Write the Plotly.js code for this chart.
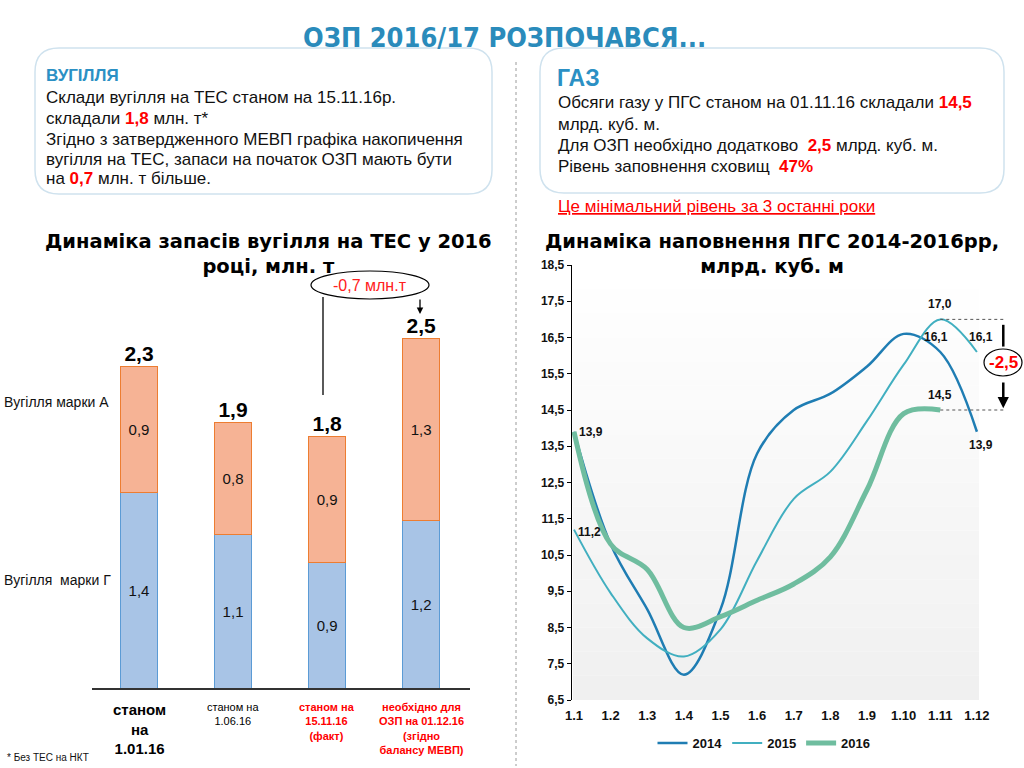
<!DOCTYPE html>
<html><head><meta charset="utf-8">
<script src="https://cdn.plot.ly/plotly-3.0.1.min.js"></script>
<style>html,body{margin:0;padding:0;background:#fff}#chart{width:1024px;height:768px}</style>
</head><body><div id="chart"></div>
<script>
// ---------- DATA ----------
const coalCategories = ['станом<br>на<br>1.01.16', 'станом на<br>1.06.16', 'станом на<br>15.11.16<br>(факт)', 'необхідно для<br>ОЗП на 01.12.16<br>(згідно<br>балансу МЕВП)'];
const coalG = [1.4, 1.1, 0.9, 1.2];   // Вугілля марки Г
const coalA = [0.9, 0.8, 0.9, 1.3];   // Вугілля марки А
const coalSeriesNames = ['Вугілля  марки Г', 'Вугілля марки А'];

const months = ['1.1','1.2','1.3','1.4','1.5','1.6','1.7','1.8','1.9','1.10','1.11','1.12'];
const gas2014 = [13.9, 10.8, 9.0, 7.2, 9.0, 13.3, 14.5, 14.95, 15.7, 16.6, 16.1, 13.9];
const gas2015 = [11.2, 9.45, 8.2, 7.7, 8.45, 10.35, 12.05, 12.8, 14.2, 15.75, 17.0, 16.1];
const gas2016 = [13.9, 10.8, 10.1, 8.5, 8.8, 9.25, 9.7, 10.45, 12.3, 14.4, 14.5];
const gasYears = ['2014', '2015', '2016'];
const yTicks = [6.5,7.5,8.5,9.5,10.5,11.5,12.5,13.5,14.5,15.5,16.5,17.5,18.5];

const coalBoxLines = [
  '<b><span style="color:#2b90c4">ВУГІЛЛЯ</span></b>',
  'Склади вугілля на ТЕС станом на 15.11.16р.',
  'складали <b><span style="color:#ff0000">1,8</span></b> млн. т*',
  'Згідно з затвердженного МЕВП графіка накопичення',
  'вугілля на ТЕС, запаси на початок ОЗП мають бути',
  'на <b><span style="color:#ff0000">0,7</span></b> млн. т більше.'
];
const gasBoxLines = [
  'Обсяги газу у ПГС станом на 01.11.16 складали <b><span style="color:#ff0000">14,5</span></b>',
  'млрд. куб. м.',
  'Для ОЗП необхідно додатково  <b><span style="color:#ff0000">2,5</span></b> млрд. куб. м.',
  'Рівень заповнення сховищ  <b><span style="color:#ff0000">47%</span></b>'
];

// ---------- helpers ----------
const W = 1024, H = 768;
const px = v => v / W, py = v => 1 - v / H;
const fmt = v => v.toFixed(1).replace('.', ',');
const sum = (a, b) => a.map((v, i) => +(v + b[i]).toFixed(2));
function rr(x0, y0, x1, y1, r) {
  const X = v => px(v).toFixed(5), Y = v => py(v).toFixed(5);
  return `M${X(x0+r)},${Y(y0)} L${X(x1-r)},${Y(y0)} Q${X(x1)},${Y(y0)} ${X(x1)},${Y(y0+r)} L${X(x1)},${Y(y1-r)} Q${X(x1)},${Y(y1)} ${X(x1-r)},${Y(y1)} L${X(x0+r)},${Y(y1)} Q${X(x0)},${Y(y1)} ${X(x0)},${Y(y1-r)} L${X(x0)},${Y(y0+r)} Q${X(x0)},${Y(y0)} ${X(x0+r)},${Y(y0)} Z`;
}
const idx = coalG.map((_, i) => i);
const mIdx = months.map((_, i) => i);
const coalTotal = sum(coalG, coalA);

const ARIAL = 'Liberation Sans, Arial, sans-serif';
const HEAVY = 'DejaVu Sans, Liberation Sans, sans-serif';

// ---------- TRACES ----------
const traces = [
  { type: 'bar', x: idx, y: coalG, name: coalSeriesNames[0], width: 0.4, xaxis: 'x', yaxis: 'y',
    marker: { color: '#a8c4e6', line: { color: '#5b9bd5', width: 1 } },
    texttemplate: '%{y:.1f}', textposition: 'inside', insidetextanchor: 'middle',
    textfont: { family: ARIAL, size: 15, color: '#111' }, showlegend: false, hoverinfo: 'skip' },
  { type: 'bar', x: idx, y: coalA, name: coalSeriesNames[1], width: 0.4, xaxis: 'x', yaxis: 'y',
    marker: { color: '#f6b395', line: { color: '#ed7d31', width: 1 } },
    texttemplate: '%{y:.1f}', textposition: 'inside', insidetextanchor: 'middle',
    textfont: { family: ARIAL, size: 15, color: '#111' }, showlegend: false, hoverinfo: 'skip' },
  { type: 'scatter', mode: 'text', x: idx, y: coalTotal, xaxis: 'x', yaxis: 'y',
    texttemplate: '<b>%{y:.1f}</b>', textposition: 'top center', cliponaxis: false,
    textfont: { family: ARIAL, size: 21, color: '#000' }, showlegend: false, hoverinfo: 'skip' },
  { type: 'scatter', mode: 'lines', x: mIdx, y: gas2014, name: gasYears[0], xaxis: 'x2', yaxis: 'y2',
    line: { color: '#1f7db3', width: 2.5, shape: 'spline', smoothing: 1 }, hoverinfo: 'skip' },
  { type: 'scatter', mode: 'lines', x: mIdx, y: gas2015, name: gasYears[1], xaxis: 'x2', yaxis: 'y2',
    line: { color: '#41afc0', width: 2, shape: 'spline', smoothing: 1 }, hoverinfo: 'skip' },
  { type: 'scatter', mode: 'lines', x: mIdx.slice(0, gas2016.length), y: gas2016, name: gasYears[2], xaxis: 'x2', yaxis: 'y2',
    line: { color: '#6fbd9f', width: 5, shape: 'spline', smoothing: 1 }, hoverinfo: 'skip' }
];

// ---------- SHAPES ----------
const shapes = [];
const nb = 18, gy0 = 265, gy1 = 700;
for (let i = 0; i < nb; i++) {
  const g = Math.round(255 - 15 * i / (nb - 1));
  shapes.push({ type: 'rect', xref: 'paper', yref: 'paper', layer: 'below',
    x0: px(573), x1: px(979), y0: py(gy0 + (gy1 - gy0) * i / nb), y1: py(gy0 + (gy1 - gy0) * (i + 1) / nb),
    fillcolor: `rgb(${g},${g},${g})`, line: { width: 0 } });
}
shapes.push({ type: 'path', xref: 'paper', yref: 'paper', path: rr(35, 48, 492, 194, 24), line: { color: '#cfe2ee', width: 1.5 }, fillcolor: 'rgba(0,0,0,0)' });
shapes.push({ type: 'path', xref: 'paper', yref: 'paper', path: rr(540, 48, 1004, 193, 24), line: { color: '#cfe2ee', width: 1.5 }, fillcolor: 'rgba(0,0,0,0)' });
shapes.push({ type: 'line', xref: 'paper', yref: 'paper', x0: px(516), x1: px(516), y0: py(62), y1: py(766), line: { color: '#9a9a9a', width: 1, dash: 'dot' } });
shapes.push({ type: 'line', xref: 'paper', yref: 'paper', x0: px(323), x1: px(323), y0: py(297), y1: py(395), line: { color: '#000', width: 1.3 } });
shapes.push({ type: 'circle', xref: 'paper', yref: 'paper', x0: px(311), x1: px(429), y0: py(271), y1: py(299), line: { color: '#000', width: 1.2 }, fillcolor: '#fff' });
const peakIdx = 10;
shapes.push({ type: 'line', xref: 'x2', yref: 'y2', x0: peakIdx, x1: 11.72, y0: gas2015[peakIdx], y1: gas2015[peakIdx], line: { color: '#555', width: 1, dash: 'dot' } });
shapes.push({ type: 'line', xref: 'x2', yref: 'y2', x0: peakIdx, x1: 11.72, y0: gas2016[peakIdx], y1: gas2016[peakIdx], line: { color: '#555', width: 1, dash: 'dot' } });
shapes.push({ type: 'line', xref: 'x2', yref: 'y2', x0: 11.72, x1: 11.72, y0: gas2015[peakIdx] - 0.15, y1: (gas2015[peakIdx] + gas2016[peakIdx]) / 2 + 0.5, line: { color: '#000', width: 2.5 } });
shapes.push({ type: 'circle', xref: 'paper', yref: 'paper', x0: px(984), x1: px(1022), y0: py(349), y1: py(376), line: { color: '#000', width: 1.2 }, fillcolor: '#fff' });

// ---------- ANNOTATIONS ----------
const ann = [];
const A = o => ann.push(Object.assign({ xref: 'paper', yref: 'paper', showarrow: false }, o));
A({ x: px(504), y: py(37), xanchor: 'center', yanchor: 'middle', text: '<b>ОЗП 2016/17 РОЗПОЧАВСЯ...</b>',
    font: { family: 'DejaVu Sans Condensed, Liberation Sans Narrow, Liberation Sans, sans-serif', size: 27, color: '#2a8bbb' } });
// left box lines
const coalLineY = [75, 97, 118, 139, 159, 179];
coalBoxLines.forEach((t, i) => A({ x: px(44), y: py(coalLineY[i]), xanchor: 'left', yanchor: 'middle', text: t,
  font: { family: ARIAL, size: 17, color: '#111' } }));
// right box
A({ x: px(555), y: py(78), xanchor: 'left', yanchor: 'middle', text: '<b>ГАЗ</b>', font: { family: ARIAL, size: 23, color: '#2b90c4' } });
const gasLineY = [102, 124, 145, 166];
gasBoxLines.forEach((t, i) => A({ x: px(556), y: py(gasLineY[i]), xanchor: 'left', yanchor: 'middle', text: t,
  font: { family: ARIAL, size: 17, color: '#111' } }));
A({ x: px(556), y: py(206), xanchor: 'left', yanchor: 'middle', text: '<u>Це мінімальний рівень за 3 останні роки</u>',
    font: { family: ARIAL, size: 17, color: '#ff0000' } });
// chart titles
A({ x: px(268), y: py(254), xanchor: 'center', yanchor: 'middle', text: '<b>Динаміка запасів вугілля на ТЕС у 2016<br>році, млн. т</b>',
    font: { family: HEAVY, size: 19.5, color: '#000' } });
A({ x: px(772), y: py(254), xanchor: 'center', yanchor: 'middle', text: '<b>Динаміка наповнення ПГС 2014-2016рр,<br>млрд. куб. м</b>',
    font: { family: HEAVY, size: 19.5, color: '#000' } });
// coal series labels
A({ x: px(111), y: py(402), xanchor: 'right', yanchor: 'middle', text: coalSeriesNames[1], font: { family: ARIAL, size: 14, color: '#111' } });
A({ x: px(113), y: py(580), xanchor: 'right', yanchor: 'middle', text: coalSeriesNames[0], font: { family: ARIAL, size: 14, color: '#111' } });
// coal category labels
const catStyle = [
  { size: 15, color: '#000', bold: true },
  { size: 11, color: '#000', bold: false },
  { size: 11, color: '#ff0000', bold: true },
  { size: 11, color: '#ff0000', bold: true }
];
coalCategories.forEach((c, i) => {
  ann.push({ xref: 'x', yref: 'paper', x: i, y: py(699), xanchor: 'center', yanchor: 'top', showarrow: false,
    text: catStyle[i].bold ? '<b>' + c + '</b>' : c, align: 'center',
    font: { family: ARIAL, size: catStyle[i].size, color: catStyle[i].color } });
});
A({ x: px(370), y: py(285), xanchor: 'center', yanchor: 'middle',
    text: fmt(coalTotal[2] - coalTotal[3]) + ' млн.т', font: { family: ARIAL, size: 16, color: '#ff2020' } });
ann.push({ xref: 'paper', yref: 'paper', x: px(420), y: py(314), ax: px(420), ay: py(298), axref: 'paper', ayref: 'paper',
  showarrow: true, arrowhead: 2, arrowsize: 1, arrowwidth: 1.3, arrowcolor: '#000', text: '' });
A({ x: px(5), y: py(757), xanchor: 'left', yanchor: 'middle', text: '* Без ТЕС на НКТ', font: { family: ARIAL, size: 10, color: '#111' } });
// gas data labels
const gasLbl = [
  { s: gas2016, i: 0, dx: 17, dy: 0 },
  { s: gas2015, i: 0, dx: 15, dy: -2 },
  { s: gas2015, i: 10, dx: 0, dy: 15 },
  { s: gas2014, i: 10, dx: -4, dy: 15 },
  { s: gas2015, i: 11, dx: 4, dy: 15 },
  { s: gas2016, i: 10, dx: 0, dy: 15 },
  { s: gas2014, i: 11, dx: 4, dy: -13 }
];
gasLbl.forEach(l => ann.push({ xref: 'x2', yref: 'y2', x: l.i, y: l.s[l.i], xshift: l.dx, yshift: l.dy, showarrow: false,
  text: '<b>' + fmt(l.s[l.i]) + '</b>', font: { family: ARIAL, size: 12, color: '#111' } }));
ann.push({ xref: 'x2', yref: 'y2', x: 11.72, y: gas2016[peakIdx] + 0.05, ax: 11.72, ay: 15.3, axref: 'x2', ayref: 'y2',
  showarrow: true, arrowhead: 2, arrowsize: 0.9, arrowwidth: 2.5, arrowcolor: '#000', text: '' });
A({ x: px(1003), y: py(362), xanchor: 'center', yanchor: 'middle', text: '<b>' + fmt(gas2016[peakIdx] - gas2015[peakIdx]) + '</b>',
    font: { family: ARIAL, size: 17, color: '#ff0000' } });

// ---------- LAYOUT ----------
const layout = {
  width: W, height: H, autosize: false, margin: { l: 0, r: 0, t: 0, b: 0 },
  paper_bgcolor: '#fff', plot_bgcolor: 'rgba(0,0,0,0)', separators: ', ',
  barmode: 'stack', showlegend: true,
  font: { family: ARIAL, color: '#111' },
  xaxis: { domain: [px(92), px(470)], range: [-0.5, 3.52], anchor: 'y', showticklabels: false, ticks: '',
    showgrid: false, zeroline: false, showline: true, linecolor: '#333', linewidth: 1.5, fixedrange: true },
  yaxis: { domain: [py(688), py(300)], range: [0, (688 - 300) / 140], anchor: 'x', visible: false, fixedrange: true },
  xaxis2: { domain: [px(572), px(1015)], range: [-0.055, 12.04], anchor: 'y2', tickmode: 'array', tickvals: mIdx, ticktext: months,
    ticks: '', showgrid: false, zeroline: false, showline: false, ticklabelstandoff: 6,
    tickfont: { family: ARIAL, size: 13, color: '#111', weight: 'bold' } },
  yaxis2: { domain: [py(700), py(265)], range: [6.5, 18.5], anchor: 'x2', tickmode: 'array', tickvals: yTicks, tickformat: '.1f',
    ticks: 'outside', ticklen: 4, tickcolor: '#000', showline: true, linecolor: '#000', linewidth: 1.3, showgrid: false, zeroline: false,
    tickfont: { family: ARIAL, size: 12, color: '#111', weight: 'bold' } },
  legend: { orientation: 'h', x: px(764), xanchor: 'center', y: py(743), yanchor: 'middle', traceorder: 'normal',
    font: { family: ARIAL, size: 13, color: '#111', weight: 'bold' }, bgcolor: 'rgba(0,0,0,0)', itemwidth: 30 },
  shapes: shapes, annotations: ann
};
Plotly.newPlot('chart', traces, layout, { staticPlot: true, displayModeBar: false });
</script></body></html>
